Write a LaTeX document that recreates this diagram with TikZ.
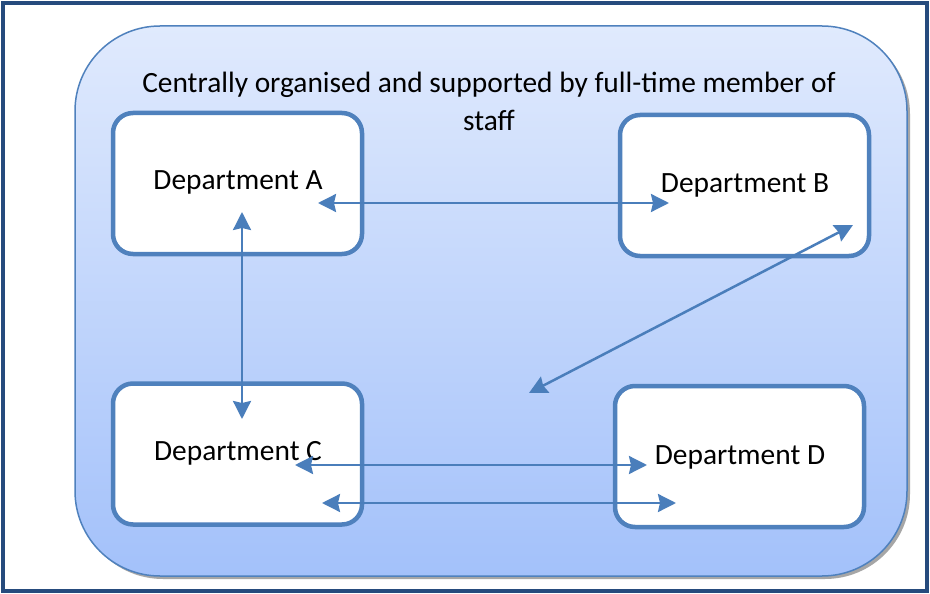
\documentclass[tikz,border=0pt]{standalone}
\usepackage{fontspec}
\setmainfont{Carlito}
\usetikzlibrary{arrows.meta}
\definecolor{frameblue}{HTML}{264B7D}
\definecolor{boxblue}{HTML}{4F81BD}
\definecolor{arrowblue}{HTML}{4A7EBB}
\definecolor{topfill}{HTML}{E0EAFD}
\definecolor{botfill}{HTML}{A3C1FA}
\tikzset{
  deptbox/.style={draw=boxblue, line width=4.5pt, fill=white, rounded corners=20pt,
    minimum width=249pt, minimum height=141pt, inner sep=0pt},
  deptlabel/.style={font=\fontsize{29.4}{35}\selectfont, text=black, inner sep=0pt},
  link/.style={draw=arrowblue, line width=2.5pt,
    {Stealth[length=18pt,width=18pt,inset=2pt]}-{Stealth[length=18pt,width=18pt,inset=2pt]}}
}
\begin{document}
\begin{tikzpicture}[x=1pt,y=-1pt]
\useasboundingbox (0,0) rectangle (930,594);
\fill[white] (0,0) rectangle (930,594);
% frame
\node[draw=frameblue, line width=4pt, minimum width=924pt, minimum height=588pt, inner sep=0pt] (frame) at (465,297) {};
% shadow
\fill[black!35, rounded corners=85pt] (78,29) rectangle (910,579);
% organisation area
\node[draw=boxblue, line width=1.5pt, top color=topfill, bottom color=botfill, rounded corners=85pt,
  minimum width=832pt, minimum height=550pt, inner sep=0pt] (org) at (491,301) {};
\node[font=\fontsize{29.4}{38}\selectfont, align=center, inner sep=0pt] (title) at (489,101)
  {Centrally organised and supported by full-time member of\\staff};
% departments
\node[deptbox] (A) at (237.5,183.5) {};
\node[deptbox] (B) at (744.5,185.5) {};
\node[deptbox] (C) at (237.5,454) {};
\node[deptbox] (D) at (739.5,456.5) {};
\node[deptlabel] (tA) at (238,182) {Department A};
\node[deptlabel] (tB) at (745,185) {Department B};
\node[deptlabel] (tC) at (238,453) {Department C};
\node[deptlabel] (tD) at (740,457) {Department D};
% arrow endpoints
\coordinate (ab1) at (318,203);
\coordinate (ab2) at (669,203);
\coordinate (ac1) at (242,212);
\coordinate (ac2) at (242,419);
\coordinate (bx1) at (853,225);
\coordinate (bx2) at (529,393);
\coordinate (cd1) at (295,465);
\coordinate (cd2) at (647,465);
\coordinate (cd3) at (322,503);
\coordinate (cd4) at (676,503);
\draw[link] (ab1) -- (ab2);
\draw[link] (ac1) -- (ac2);
\draw[link] (bx1) -- (bx2);
\draw[link] (cd1) -- (cd2);
\draw[link] (cd3) -- (cd4);
\end{tikzpicture}
\end{document}
